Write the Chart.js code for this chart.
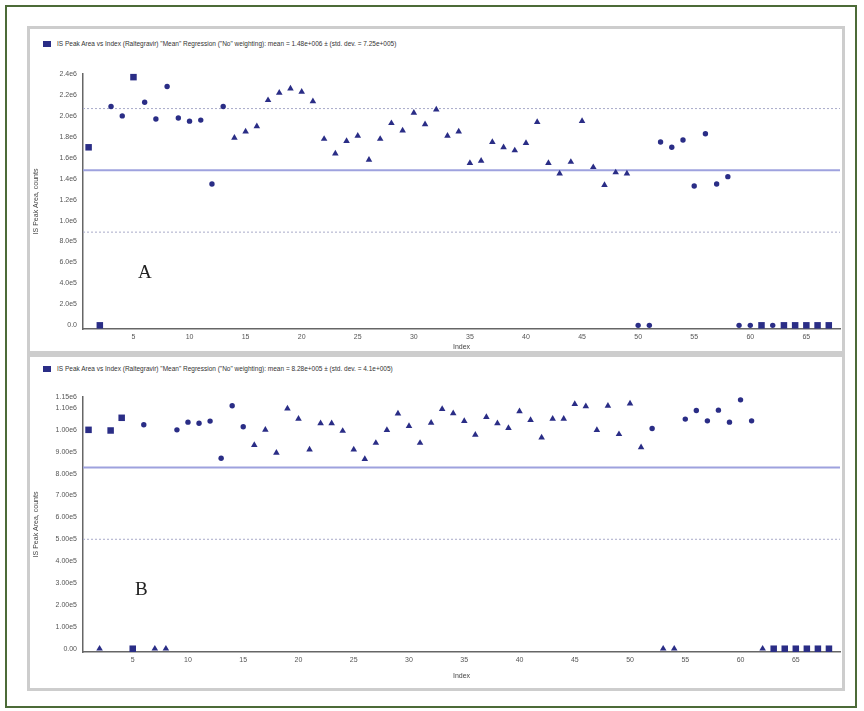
<!DOCTYPE html>
<html>
<head>
<meta charset="utf-8">
<script src="https://cdn.jsdelivr.net/npm/chart.js@4"></script>
<style>
  body { margin: 0; width: 864px; height: 711px; background: #fff; position: relative; overflow: hidden;
         font-family: "Liberation Sans", Arial, sans-serif; }
  #frame { position: absolute; left: 5px; top: 5px; width: 848px; height: 699px; border: 2px solid #4c6b38; }
  .panel { position: absolute; left: 27px; width: 812px; border: 3px solid #cdcdcd; background: #fff; }
  .legend { position: absolute; left: 43px; font-size: 6.5px; color: #333; white-space: nowrap; }
  .legend i { display: inline-block; width: 8px; height: 6px; background: #2a2d86; margin-right: 6px; vertical-align: middle; }
  .tag { position: absolute; font-family: "Liberation Serif", serif; font-size: 19px; color: #222; }
  canvas { position: absolute; }
</style>
</head>
<body>
<div id="frame"></div>
<div class="panel" style="top:26px;height:322px"></div>
<div class="panel" style="top:354px;height:331px"></div>

<div class="legend" style="top:40px"><i></i>IS Peak Area vs Index (Raltegravir) "Mean" Regression ("No" weighting): mean = 1.48e+006 ± (std. dev. = 7.25e+005)</div>
<div class="legend" style="top:365px"><i></i>IS Peak Area vs Index (Raltegravir) "Mean" Regression ("No" weighting): mean = 8.28e+005 ± (std. dev. = 4.1e+005)</div>

<canvas id="chartA" width="815" height="291" style="left:30px;top:60px"></canvas>
<canvas id="chartB" width="815" height="295" style="left:30px;top:385px"></canvas>

<div class="tag" style="left:138px;top:261px">A</div>
<div class="tag" style="left:135px;top:578px">B</div>

<script>
// IS peak area per injection index
const peakA = [
  1.70e6, 0, 2.09e6, 2.00e6, 2.37e6, 2.13e6, 1.97e6, 2.28e6, 1.98e6, 1.95e6,
  1.96e6, 1.35e6, 2.09e6, 1.79e6, 1.85e6, 1.90e6, 2.15e6, 2.22e6, 2.26e6, 2.23e6,
  2.14e6, 1.78e6, 1.64e6, 1.76e6, 1.81e6, 1.58e6, 1.78e6, 1.93e6, 1.86e6, 2.03e6,
  1.92e6, 2.06e6, 1.81e6, 1.85e6, 1.55e6, 1.57e6, 1.75e6, 1.70e6, 1.67e6, 1.74e6,
  1.94e6, 1.55e6, 1.45e6, 1.56e6, 1.95e6, 1.51e6, 1.34e6, 1.46e6, 1.45e6, 0,
  0, 1.75e6, 1.70e6, 1.77e6, 1.33e6, 1.83e6, 1.35e6, 1.42e6, 0, 0,
  0, 0, 0, 0, 0, 0, 0
];
// S = standard, Q = QC, U = unknown sample
const typeA = [
  'S','S','Q','Q','S','Q','Q','Q','Q','Q',
  'Q','Q','Q','U','U','U','U','U','U','U',
  'U','U','U','U','U','U','U','U','U','U',
  'U','U','U','U','U','U','U','U','U','U',
  'U','U','U','U','U','U','U','U','U','Q',
  'Q','Q','Q','Q','Q','Q','Q','Q','Q','Q',
  'S','Q','S','S','S','S','S'
];
const meanA = 1.48e6;
const limitsA = [2.07e6, 0.89e6];
const yTicksA = [0, 2e5, 4e5, 6e5, 8e5, 1.0e6, 1.2e6, 1.4e6, 1.6e6, 1.8e6, 2.0e6, 2.2e6, 2.4e6];
const xTicksA = [5, 10, 15, 20, 25, 30, 35, 40, 45, 50, 55, 60, 65];

const peakB = [
  1.00e6, 0, 0.997e6, 1.055e6, 0, 1.023e6, 0, 0, 1.00e6, 1.035e6,
  1.03e6, 1.04e6, 0.87e6, 1.11e6, 1.014e6, 0.93e6, 1.00e6, 0.895e6, 1.097e6, 1.05e6,
  0.91e6, 1.03e6, 1.03e6, 0.995e6, 0.91e6, 0.866e6, 0.94e6, 0.999e6, 1.074e6, 1.017e6,
  0.94e6, 1.032e6, 1.095e6, 1.075e6, 1.04e6, 0.977e6, 1.058e6, 1.03e6, 1.008e6, 1.085e6,
  1.045e6, 0.965e6, 1.05e6, 1.05e6, 1.118e6, 1.107e6, 0.999e6, 1.11e6, 0.98e6, 1.12e6,
  0.92e6, 1.006e6, 0, 0, 1.049e6, 1.088e6, 1.041e6, 1.09e6, 1.035e6, 1.137e6,
  1.041e6, 0, 0, 0, 0, 0, 0, 0
];
const typeB = [
  'S','U','S','S','S','Q','U','U','Q','Q',
  'Q','Q','Q','Q','Q','U','U','U','U','U',
  'U','U','U','U','U','U','U','U','U','U',
  'U','U','U','U','U','U','U','U','U','U',
  'U','U','U','U','U','U','U','U','U','U',
  'U','Q','U','U','Q','Q','Q','Q','Q','Q',
  'Q','U','S','S','S','S','S','S'
];
const meanB = 8.28e5;
const limitsB = [5.0e5];
const yTicksB = [0, 1e5, 2e5, 3e5, 4e5, 5e5, 6e5, 7e5, 8e5, 9e5, 1.0e6, 1.1e6, 1.15e6];
const xTicksB = [];
for (let i = 1; i <= 68; i++) xTicksB.push(i);

const markerColor = '#2a2d86';
const shapes = { S: 'rect', Q: 'circle', U: 'triangle' };
const sizes = { S: 4.6, Q: 2.7, U: 3.8 };
const tickFont = { family: 'Liberation Sans', size: 7 };

function buildPanel(id, values, types, mean, limits, yTicks, xTicks, opts) {
  const ctx = document.getElementById(id).getContext('2d');
  const pts = values.map((v, i) => ({ x: i + 1, y: v }));
  const hline = (y) => [{ x: opts.xMin, y: y }, { x: opts.xMax, y: y }];

  const datasets = [{
    data: pts,
    clip: false,
    pointStyle: (c) => shapes[types[c.dataIndex]],
    pointRadius: (c) => sizes[types[c.dataIndex]],
    backgroundColor: markerColor,
    borderColor: markerColor,
    borderWidth: 0
  }, {
    data: hline(mean),
    showLine: true,
    borderColor: '#9ea2de',
    borderWidth: 2,
    pointRadius: 0
  }];
  limits.forEach(l => datasets.push({
    data: hline(l),
    showLine: true,
    borderColor: '#a9abc9',
    borderWidth: 1,
    borderDash: [2, 2],
    pointRadius: 0
  }));

  return new Chart(ctx, {
    type: 'scatter',
    data: { datasets: datasets },
    options: {
      responsive: false,
      animation: false,
      layout: { padding: { top: opts.padTop, right: 5, left: 0, bottom: 0 } },
      plugins: { legend: { display: false }, tooltip: { enabled: false } },
      scales: {
        x: {
          type: 'linear',
          min: opts.xMin,
          max: opts.xMax,
          afterBuildTicks: (s) => { s.ticks = xTicks.map(v => ({ value: v })); },
          afterFit: (s) => { s.height = opts.xAxisHeight; },
          grid: { display: false, drawTicks: true, tickLength: 3, tickColor: '#666' },
          border: { color: '#666', width: 1.5 },
          ticks: {
            autoSkip: false, maxRotation: 0, padding: 1, color: '#555', font: tickFont,
            callback: (v) => (v % 5 === 0 ? String(v) : '')
          },
          title: { display: true, text: opts.xTitle, color: '#444', font: tickFont, padding: 0 }
        },
        y: {
          min: opts.yMin,
          max: yTicks[yTicks.length - 1],
          afterBuildTicks: (s) => { s.ticks = yTicks.map(v => ({ value: v })); },
          afterFit: (s) => { s.width = 53; },
          grid: { display: false, drawTicks: true, tickLength: 4, tickColor: '#666' },
          border: { color: '#666', width: 1.5 },
          ticks: {
            autoSkip: false, padding: 2, color: '#555', font: tickFont,
            callback: (v) => (v === 0 ? opts.zero : v.toExponential(opts.digits).replace('e+', 'e'))
          },
          title: { display: true, text: 'IS Peak Area, counts', color: '#444', font: tickFont, padding: 2 }
        }
      }
    }
  });
}

buildPanel('chartA', peakA, typeA, meanA, limitsA, yTicksA, xTicksA,
  { xMin: 0.5, xMax: 68, yMin: -3.5e4, padTop: 14, xAxisHeight: 22, zero: '0.0', digits: 1, xTitle: 'Index' });
buildPanel('chartB', peakB, typeB, meanB, limitsB, yTicksB, xTicksB,
  { xMin: 0.5, xMax: 69, yMin: -1.5e4, padTop: 12, xAxisHeight: 28, zero: '0.00', digits: 2, xTitle: 'Index' });
</script>
</body>
</html>
